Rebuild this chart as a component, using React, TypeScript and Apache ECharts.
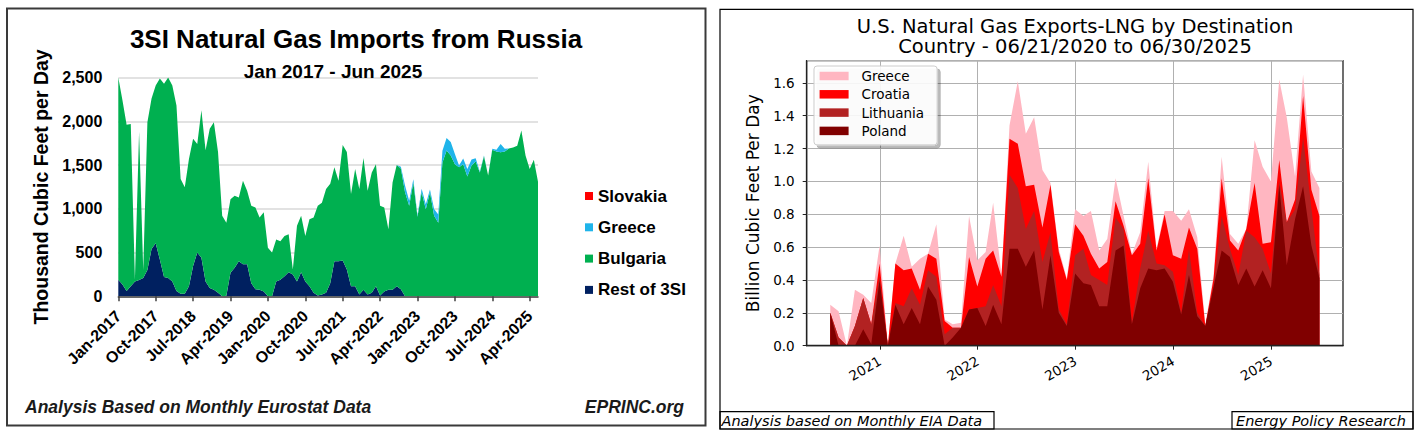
import React, { useEffect, useRef } from 'react';
import * as echarts from 'echarts';

// ---------- Left chart data (monthly, Jan-2017 .. Jun-2025) ----------
const MONTH_NAMES = ['Jan', 'Feb', 'Mar', 'Apr', 'May', 'Jun', 'Jul', 'Aug', 'Sep', 'Oct', 'Nov', 'Dec'];
const LEFT_START_YEAR = 2017;
const LEFT_MONTHS = 102;
const leftCategories: string[] = [];
for (let i = 0; i < LEFT_MONTHS; i++) {
  leftCategories.push(MONTH_NAMES[i % 12] + '-' + (LEFT_START_YEAR + Math.floor(i / 12)));
}

const restOf3SI = [
  190, 135, 60, 115, 170, 185, 210, 300, 540, 605, 420, 220,
  210, 170, 60, 30, 30, 115, 345, 500, 440, 170, 95, 75,
  40, 0, 5, 270, 325, 400, 365, 365, 150, 80, 75, 55,
  0, 0, 170, 190, 230, 275, 250, 170, 275, 170, 115, 40,
  10, 20, 40, 150, 400, 400, 410, 305, 115, 115, 20, 75,
  20, 40, 115, 10, 55, 75, 75, 115, 80, 0, 0, 0,
  0, 0, 0, 0, 0, 0, 0, 0, 0, 0, 0, 0,
  0, 0, 0, 0, 0, 0, 0, 0, 0, 0, 0, 0,
  0, 0, 0, 0, 0, 0,
];
const bulgaria = [
  2310, 2105, 1900, 1855, 20, 1695, 90, 1690, 1720, 1805, 2070, 2210,
  2290, 2240, 2120, 1310, 1215, 1455, 1455, 1240, 1685, 1500, 1820, 1915,
  1610, 920, 835, 840, 825, 730, 955, 840, 885, 935, 825, 905,
  555, 500, 480, 440, 460, 435, 55, 635, 645, 520, 765, 860,
  1025, 1050, 1185, 1135, 1075, 920, 1320, 1345, 1055, 1340, 1205, 1505,
  1185, 1375, 1395, 1025, 960, 690, 1225, 1385, 1380, 1190, 1035, 1300,
  910, 1190, 995, 1190, 920, 840, 1530, 1665, 1610, 1510, 1475, 1510,
  1370, 1495, 1540, 1415, 1600, 1380, 1675, 1655, 1645, 1655, 1690, 1700,
  1720, 1895, 1610, 1455, 1560, 1310,
];
const greeceLeft = [
  0, 0, 0, 0, 0, 0, 0, 0, 0, 0, 0, 0,
  0, 0, 0, 0, 0, 0, 0, 0, 0, 0, 0, 0,
  0, 0, 0, 0, 0, 0, 0, 0, 0, 0, 0, 0,
  0, 0, 0, 0, 0, 0, 0, 0, 0, 0, 0, 0,
  0, 0, 0, 0, 0, 0, 0, 0, 0, 0, 0, 0,
  0, 0, 0, 0, 0, 0, 0, 0, 20, 75, 57, 38,
  15, 38, 57, 30, 77, 96, 134, 145, 153, 115, 20, 65,
  84, 69, 38, 10, 10, 0, 10, 20, 96, 30, 0, 0,
  0, 0, 0, 0, 0, 0,
];
const slovakia = [
  0, 0, 0, 0, 0, 0, 0, 0, 0, 0, 0, 0,
  0, 0, 0, 0, 0, 0, 0, 0, 0, 0, 0, 0,
  0, 0, 0, 0, 0, 0, 0, 0, 0, 0, 0, 0,
  0, 0, 0, 0, 0, 0, 0, 0, 0, 0, 0, 0,
  0, 0, 0, 0, 0, 0, 0, 0, 0, 0, 0, 0,
  0, 0, 0, 0, 0, 0, 0, 0, 0, 0, 0, 0,
  0, 0, 0, 0, 0, 0, 0, 0, 0, 0, 0, 0,
  0, 0, 0, 0, 0, 0, 0, 0, 0, 0, 0, 0,
  0, 0, 0, 0, 0, 0,
];
const leftYTicks = { min: 0, max: 2500, interval: 500 };

// ---------- Right chart data (monthly, month ends Jun-2020 .. Jun-2025) ----------
const RIGHT_START = { year: 2020, month: 5 }; // June 2020 (0-based month)
const poland = [
  0.20, 0.00, 0.00, 0.00, 0.10, 0.01, 0.40, 0.00, 0.25, 0.13,
  0.23, 0.13, 0.36, 0.28, 0.00, 0.05, 0.11, 0.22, 0.23, 0.12,
  0.25, 0.13, 0.59, 0.59, 0.48, 0.58, 0.22, 0.55, 0.20, 0.12,
  0.44, 0.38, 0.37, 0.24, 0.24, 0.58, 0.61, 0.13, 0.35, 0.47,
  0.46, 0.47, 0.39, 0.19, 0.43, 0.18, 0.12, 0.36, 0.58, 0.54,
  0.37, 0.47, 0.36, 0.46, 0.35, 0.98, 0.49, 0.77, 0.97, 0.61, 0.41,
];
const lithuania = [
  0.00, 0.05, 0.00, 0.12, 0.19, 0.12, 0.02, 0.00, 0.01, 0.11,
  0.12, 0.12, 0.10, 0.14, 0.07, 0.06, 0.00, 0.00, 0.00, 0.12,
  0.12, 0.11, 0.45, 0.37, 0.23, 0.24, 0.29, 0.14, 0.02, 0.01,
  0.11, 0.21, 0.06, 0.16, 0.13, 0.20, 0.10, 0.01, 0.12, 0.23,
  0.04, 0.02, 0.06, 0.01, 0.16, 0.02, 0.00, 0.01, 0.21, 0.05,
  0.06, 0.23, 0.30, 0.13, 0.09, 0.02, 0.26, 0.06, 0.30, 0.23, 0.02,
];
const croatia = [
  0.00, 0.00, 0.00, 0.00, 0.00, 0.00, 0.08, 0.00, 0.24, 0.22,
  0.12, 0.09, 0.10, 0.11, 0.08, 0.00, 0.00, 0.32, 0.13, 0.29,
  0.21, 0.18, 0.22, 0.27, 0.26, 0.16, 0.21, 0.29, 0.35, 0.27,
  0.19, 0.08, 0.13, 0.07, 0.14, 0.10, 0.02, 0.41, 0.15, 0.32,
  0.08, 0.31, 0.10, 0.33, 0.13, 0.39, 0.00, 0.04, 0.23, 0.05,
  0.15, 0.01, 0.33, 0.03, 0.19, 0.13, 0.00, 0.06, 0.25, 0.11, 0.36,
];
const greeceRight = [
  0.05, 0.16, 0.00, 0.22, 0.02, 0.13, 0.11, 0.00, 0.00, 0.21,
  0.01, 0.19, 0.00, 0.21, 0.01, 0.02, 0.03, 0.25, 0.16, 0.04,
  0.29, 0.01, 0.08, 0.38, 0.32, 0.41, 0.35, 0.01, 0.02, 0.01,
  0.09, 0.12, 0.26, 0.11, 0.14, 0.14, 0.06, 0.01, 0.07, 0.10,
  0.01, 0.02, 0.27, 0.23, 0.11, 0.07, 0.01, 0.02, 0.13, 0.04,
  0.04, 0.00, 0.26, 0.47, 0.37, 0.49, 0.64, 0.14, 0.13, 0.11, 0.17,
];
const rightYearTicks = [2021, 2022, 2023, 2024, 2025];
const rightYTicks = { min: 0, max: 1.735, interval: 0.2 };
const rightXRange = { min: [2020, 3, 3], max: [2025, 8, 26] };

const rightDates: number[] = [];
for (let k = 0; k < poland.length; k++) {
  // last day of each month
  rightDates.push(new Date(RIGHT_START.year, RIGHT_START.month + k + 1, 0).getTime());
}

const L_FONT = "'Liberation Sans', Arial, Helvetica, sans-serif";
const R_FONT = "'DejaVu Sans', sans-serif";

function commas(v: number): string {
  return String(v).replace(/\B(?=(\d{3})+(?!\d))/g, ',');
}

function areaSeries(name: string, data: any[], color: string, stack?: string) {
  const s: any = {
    name,
    type: 'line',
    data,
    color,
    symbol: 'none',
    showSymbol: false,
    smooth: false,
    silent: true,
    lineStyle: { width: 0, opacity: 0 },
    itemStyle: { color },
    areaStyle: { color, opacity: 1 },
    emphasis: { disabled: true },
  };
  if (stack) s.stack = stack;
  return s;
}

function buildLeft(): any {
  const textBold = { fontFamily: L_FONT, fontWeight: 'bold', color: '#000' };
  return {
    animation: false,
    backgroundColor: '#ffffff',
    title: [
      {
        text: '3SI Natural Gas Imports from Russia',
        left: 356,
        top: 25.5,
        padding: 0,
        textAlign: 'center',
        textStyle: { ...textBold, fontSize: 26 },
      },
      {
        text: 'Jan 2017 - Jun 2025',
        left: 333,
        top: 61.5,
        padding: 0,
        textAlign: 'center',
        textStyle: { ...textBold, fontSize: 19 },
      },
    ],
    grid: { left: 118.3, top: 77.5, width: 419.7, height: 218.8, containLabel: false },
    legend: {
      orient: 'vertical',
      left: 585,
      top: 187.5,
      padding: 0,
      icon: 'rect',
      itemWidth: 8,
      itemHeight: 8,
      itemGap: 14.3,
      selectedMode: false,
      data: ['Slovakia', 'Greece', 'Bulgaria', 'Rest of 3SI'],
      textStyle: { ...textBold, fontSize: 17 },
    },
    xAxis: {
      type: 'category',
      boundaryGap: false,
      data: leftCategories,
      axisLine: { show: true, lineStyle: { color: '#404040', width: 1.5 } },
      axisTick: { show: true, interval: 8, length: 5, lineStyle: { color: '#404040', width: 1.5 } },
      axisLabel: { interval: 8, rotate: 45, margin: 17, ...textBold, fontSize: 16 },
      splitLine: { show: false },
    },
    yAxis: {
      type: 'value',
      min: leftYTicks.min,
      max: leftYTicks.max,
      interval: leftYTicks.interval,
      axisLine: { show: false },
      axisTick: { show: false },
      splitLine: { show: true, lineStyle: { color: '#d9d9d9', width: 1.5 } },
      axisLabel: { margin: 16, formatter: (v: number) => commas(v), ...textBold, fontSize: 16 },
      name: 'Thousand Cubic Feet per Day',
      nameLocation: 'middle',
      nameGap: 64,
      nameTextStyle: { ...textBold, fontSize: 19.5 },
    },
    series: [
      areaSeries('Rest of 3SI', restOf3SI, '#002060', 'left'),
      areaSeries('Bulgaria', bulgaria, '#00b050', 'left'),
      areaSeries('Greece', greeceLeft, '#1fb4ea', 'left'),
      areaSeries('Slovakia', slovakia, '#ff0000', 'left'),
    ],
    graphic: [
      {
        type: 'rect',
        silent: true,
        shape: { x: 7, y: 8.5, width: 698.5, height: 417 },
        style: { fill: 'none', stroke: '#3a3a3a', lineWidth: 2 },
      },
      {
        type: 'text',
        silent: true,
        x: 25,
        y: 407,
        style: {
          text: 'Analysis Based on Monthly Eurostat Data',
          fontFamily: L_FONT,
          fontWeight: 'bold',
          fontStyle: 'italic',
          fontSize: 17.5,
          fill: '#1a1a1a',
          align: 'left',
          verticalAlign: 'middle',
        },
      },
      {
        type: 'text',
        silent: true,
        x: 684,
        y: 407,
        style: {
          text: 'EPRINC.org',
          fontFamily: L_FONT,
          fontWeight: 'bold',
          fontStyle: 'italic',
          fontSize: 17.5,
          fill: '#1a1a1a',
          align: 'right',
          verticalAlign: 'middle',
        },
      },
    ],
  };
}

function buildRight(): any {
  const txt = { fontFamily: R_FONT, color: '#000' };
  const yearTs = rightYearTicks.map((y) => new Date(y, 0, 1).getTime());
  const xMin = new Date(rightXRange.min[0], rightXRange.min[1], rightXRange.min[2]).getTime();
  const xMax = new Date(rightXRange.max[0], rightXRange.max[1], rightXRange.max[2]).getTime();
  // cumulative layers (stack order: Poland, Lithuania, Croatia, Greece)
  const layers = [poland, lithuania, croatia, greeceRight];
  const cum: number[][] = [];
  layers.forEach((arr, li) => {
    cum.push(arr.map((v, k) => +(v + (li > 0 ? cum[li - 1][k] : 0)).toFixed(4)));
  });
  const pair = (arr: number[]) => arr.map((v, k) => [rightDates[k], v]);
  return {
    animation: false,
    backgroundColor: '#ffffff',
    title: {
      text: 'U.S. Natural Gas Exports-LNG by Destination\nCountry - 06/21/2020 to 06/30/2025',
      left: 362,
      top: 16.5,
      padding: 0,
      textAlign: 'center',
      textStyle: { ...txt, fontSize: 19.5, fontWeight: 'normal', lineHeight: 20.2 },
    },
    grid: {
      left: 93.7,
      top: 60.7,
      width: 536.3,
      height: 285,
      containLabel: false,
      show: true,
      borderColor: '#222',
      borderWidth: 1.3,
      backgroundColor: 'transparent',
    },
    legend: {
      orient: 'vertical',
      left: 101,
      top: 66,
      data: ['Greece', 'Croatia', 'Lithuania', 'Poland'],
      icon: 'rect',
      itemWidth: 29,
      itemHeight: 8.5,
      itemGap: 2.3,
      padding: [2, 13, 6, 5.6],
      selectedMode: false,
      backgroundColor: 'rgba(255,255,255,0.88)',
      borderColor: '#cccccc',
      borderWidth: 1,
      borderRadius: 3,
      shadowColor: 'rgba(0,0,0,0.3)',
      shadowBlur: 1,
      shadowOffsetX: 3,
      shadowOffsetY: 3,
      textStyle: { ...txt, fontSize: 13.5, lineHeight: 16, padding: [0, 0, 0, 8] },
    },
    xAxis: {
      type: 'value',
      min: xMin,
      max: xMax,
      z: 3,
      axisLine: { show: true, lineStyle: { color: '#222', width: 1.3 } },
      axisTick: { show: true, inside: false, length: 4, customValues: yearTs, lineStyle: { color: '#222', width: 1 } },
      axisLabel: {
        customValues: yearTs,
        rotate: 30,
        margin: 14,
        hideOverlap: false,
        formatter: (v: number) => String(new Date(v).getFullYear()),
        ...txt,
        fontSize: 13.5,
      },
      splitLine: { show: true, lineStyle: { color: '#b0b0b0', width: 1 } },
    },
    yAxis: {
      type: 'value',
      min: rightYTicks.min,
      max: rightYTicks.max,
      interval: rightYTicks.interval,
      z: 3,
      axisLine: { show: true, lineStyle: { color: '#222', width: 1.3 } },
      axisTick: { show: true, inside: false, length: 4, lineStyle: { color: '#222', width: 1 } },
      axisLabel: {
        margin: 12,
        showMaxLabel: false,
        formatter: (v: number) => (v > 1.65 ? '' : v.toFixed(1)),
        ...txt,
        fontSize: 13.5,
      },
      splitLine: { show: true, lineStyle: { color: '#b0b0b0', width: 1 } },
      name: 'Billion Cubic Feet Per Day',
      nameLocation: 'middle',
      nameGap: 45,
      nameTextStyle: { ...txt, fontSize: 17 },
    },
    // drawn from the top layer down so each lower cumulative area covers the one above
    series: [
      areaSeries('Greece', pair(cum[3]), '#ffb6c1'),
      areaSeries('Croatia', pair(cum[2]), '#ff0000'),
      areaSeries('Lithuania', pair(cum[1]), '#b22222'),
      areaSeries('Poland', pair(cum[0]), '#800000'),
    ],
    graphic: [
      {
        type: 'rect',
        silent: true,
        shape: { x: 7, y: 9.3, width: 693, height: 419.7 },
        style: { fill: 'none', stroke: '#000', lineWidth: 1.2 },
      },
      {
        type: 'rect',
        silent: true,
        shape: { x: 7, y: 411.7, width: 274, height: 17.3 },
        style: { fill: 'none', stroke: '#000', lineWidth: 1.2 },
      },
      {
        type: 'rect',
        silent: true,
        shape: { x: 519, y: 411.7, width: 181, height: 17.3 },
        style: { fill: 'none', stroke: '#000', lineWidth: 1.2 },
      },
      {
        type: 'text',
        silent: true,
        x: 8.5,
        y: 420.5,
        style: {
          text: 'Analysis based on Monthly EIA Data',
          fontFamily: R_FONT,
          fontStyle: 'italic',
          fontSize: 14.5,
          fill: '#000',
          align: 'left',
          verticalAlign: 'middle',
        },
      },
      {
        type: 'text',
        silent: true,
        x: 523,
        y: 420.5,
        style: {
          text: 'Energy Policy Research',
          fontFamily: R_FONT,
          fontStyle: 'italic',
          fontSize: 14.5,
          fill: '#000',
          align: 'left',
          verticalAlign: 'middle',
        },
      },
    ],
  };
}

export default function App() {
  const leftRef = useRef<HTMLDivElement>(null);
  const rightRef = useRef<HTMLDivElement>(null);
  useEffect(() => {
    const l = echarts.init(leftRef.current as HTMLDivElement, null, { renderer: 'svg' });
    const r = echarts.init(rightRef.current as HTMLDivElement, null, { renderer: 'svg' });
    try {
      l.setOption(buildLeft());
    } catch (e) {
      console.error(e);
    }
    try {
      r.setOption(buildRight());
    } catch (e) {
      console.error(e);
    }
    return () => {
      l.dispose();
      r.dispose();
    };
  }, []);
  return (
    <div style={{ position: 'absolute', left: 0, top: 0, width: 1426, height: 438, background: '#fff' }}>
      <div ref={leftRef} style={{ position: 'absolute', left: 0, top: 0, width: 713, height: 438 }} />
      <div ref={rightRef} style={{ position: 'absolute', left: 713, top: 0, width: 713, height: 438 }} />
    </div>
  );
}
